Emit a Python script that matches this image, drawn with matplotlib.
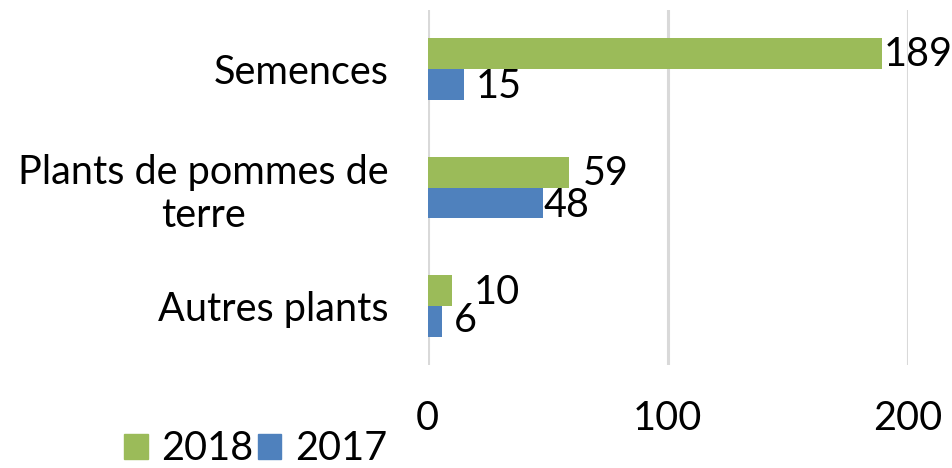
import matplotlib
matplotlib.use("Agg")
import matplotlib.pyplot as plt
from matplotlib.patches import Patch

categories = ["Semences", "Plants de pommes de\nterre", "Autres plants"]
values_2018 = [189, 59, 10]
values_2017 = [15, 48, 6]
series_names = ["2018", "2017"]
xticks = [0, 100, 200]

green = "#9BBB59"
blue = "#4F81BD"
plt.rcParams["font.family"] = ["Lato", "DejaVu Sans"]
FS = 28.5

fig = plt.figure(figsize=(9.52, 4.68), dpi=100)
ax = fig.add_axes([427.5 / 952, 1 - 365 / 468, (908 - 427.5) / 952, (365 - 10) / 468])

ypos = list(range(len(categories)))
h = 0.26
ax.barh([y - h / 2 for y in ypos], values_2018, height=h, color=green, zorder=3)
ax.barh([y + h / 2 for y in ypos], values_2017, height=h, color=blue, zorder=3)

ax.set_xlim(0, 200)
ax.set_ylim(2.5, -0.5)
ax.set_xticks(xticks)
ax.set_xticklabels([str(t) for t in xticks], fontsize=FS)
ax.set_yticks(ypos)
ax.set_yticklabels(categories, fontsize=FS, multialignment="center", linespacing=1.2)
ax.tick_params(axis="x", length=0, pad=25)
ax.tick_params(axis="y", length=0, pad=28)
for s in ax.spines.values():
    s.set_visible(False)
ax.grid(axis="x", color="#D9D9D9", linewidth=2.2, zorder=0)
ax.set_axisbelow(True)

# data labels (offsets in pixels, mimicking Excel's placement)
off18 = [(2, -1), (14, -1), (22, -2)]
off17 = [(12, -2), (1, -3), (12, 1)]
for y, v, (dx, dy) in zip(ypos, values_2018, off18):
    ax.annotate(str(v), (v, y - h / 2), xytext=(dx * 0.72, dy * 0.72), textcoords="offset points",
                ha="left", va="center", fontsize=FS, zorder=4)
for y, v, (dx, dy) in zip(ypos, values_2017, off17):
    ax.annotate(str(v), (v, y + h / 2), xytext=(dx * 0.72, dy * 0.72), textcoords="offset points",
                ha="left", va="center", fontsize=FS, zorder=4)

handles = [Patch(color=green), Patch(color=blue)]
fig.legend(handles, series_names, loc="center left", bbox_to_anchor=(116 / 952, 1 - 449 / 468), ncol=2,
           frameon=False, fontsize=FS, handlelength=0.6, handleheight=0.6,
           handletextpad=0.35, columnspacing=0.1, borderaxespad=0, borderpad=0.2)

fig.savefig("out.png", dpi=100)
